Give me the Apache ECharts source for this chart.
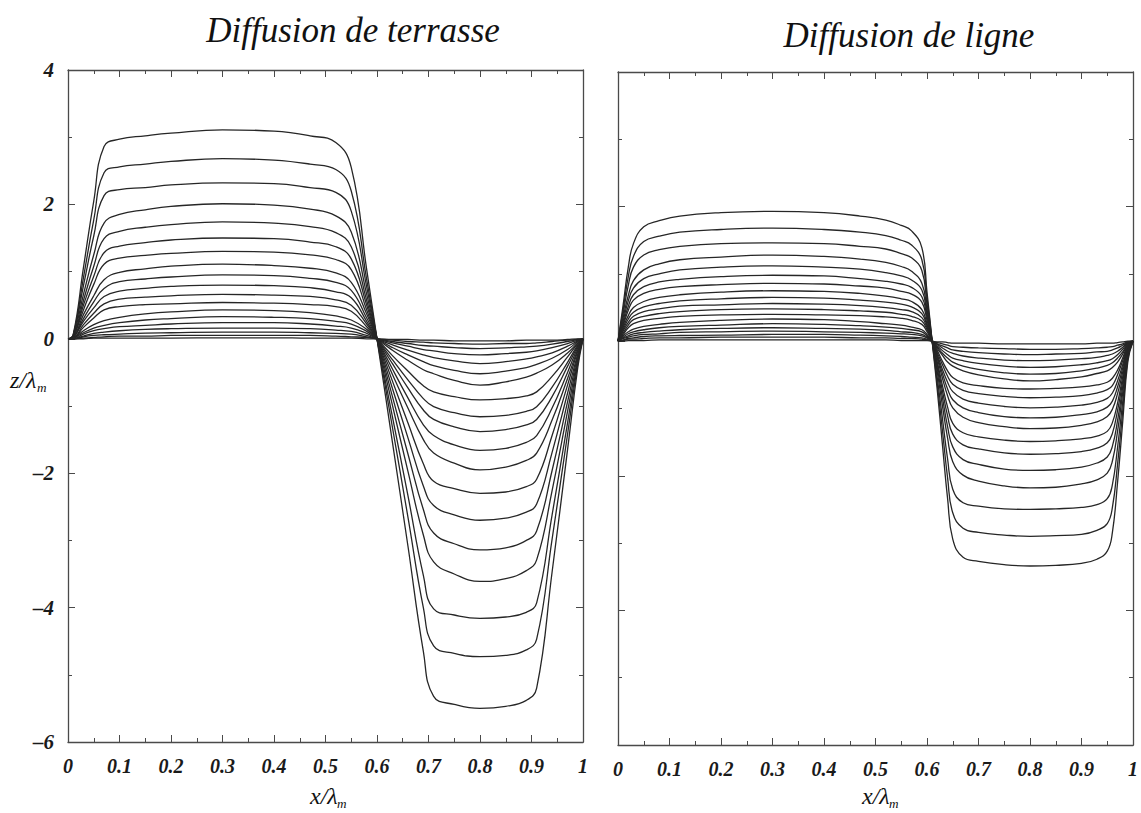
<!DOCTYPE html>
<html>
<head>
<meta charset="utf-8">
<script src="https://cdn.jsdelivr.net/npm/echarts@6/dist/echarts.min.js"></script>
<style>
  html, body { margin: 0; padding: 0; background: #fff; }
  #chart { width: 1141px; height: 813px; }
</style>
</head>
<body>
<div id="chart"></div>
<script>
// Profile z/λm versus x/λm, successive times, for two relaxation mechanisms.

// Panel titles and axis texts
const titles = ['Diffusion de terrasse', 'Diffusion de ligne'];
const xName = 'x/λ';
const yName = 'z/λ';
const nameSub = 'm';

// Axis ranges
const xRange = [0, 1, 0.1];
const zRange = [-6, 4, 2];

// Terrace diffusion: abscissae shared by every profile
const terrasseX = [0, 0.01, 0.03, 0.05, 0.07, 0.1, 0.15, 0.2, 0.3, 0.4, 0.47, 0.52, 0.55, 0.58, 0.6,
  0.63, 0.66, 0.69, 0.71, 0.75, 0.8, 0.85, 0.89, 0.91, 0.94, 0.97, 0.99, 1];

// Terrace diffusion: one row of heights per profile
const terrasseZ = [
  [0, 0.06, 1.06, 2.05, 2.86, 2.97, 3.02, 3.06, 3.11, 3.09, 3.02, 2.92, 2.55, 1.03, 0, -1.54, -3.08, -4.65, -5.32, -5.44, -5.50, -5.47, -5.38, -5.20, -3.47, -1.65, -0.42, 0],
  [0, 0.05, 0.91, 1.77, 2.47, 2.56, 2.60, 2.64, 2.68, 2.66, 2.60, 2.52, 2.20, 0.88, 0, -1.32, -2.65, -4.00, -4.57, -4.68, -4.73, -4.71, -4.63, -4.47, -2.98, -1.42, -0.36, 0],
  [0, 0.05, 0.79, 1.53, 2.13, 2.22, 2.25, 2.29, 2.32, 2.31, 2.25, 2.18, 1.90, 0.77, 0, -1.16, -2.33, -3.52, -4.02, -4.11, -4.16, -4.14, -4.07, -3.93, -2.62, -1.25, -0.32, 0],
  [0, 0.04, 0.66, 1.25, 1.72, 1.85, 1.92, 1.97, 2.01, 1.99, 1.93, 1.83, 1.59, 0.66, 0, -0.99, -1.97, -2.92, -3.32, -3.50, -3.61, -3.57, -3.45, -3.29, -2.26, -1.08, -0.29, 0],
  [0, 0.03, 0.57, 1.08, 1.49, 1.60, 1.66, 1.70, 1.74, 1.72, 1.67, 1.58, 1.37, 0.57, 0, -0.86, -1.71, -2.54, -2.89, -3.05, -3.14, -3.11, -3.00, -2.86, -1.96, -0.94, -0.25, 0],
  [0, 0.03, 0.50, 0.93, 1.28, 1.38, 1.43, 1.47, 1.50, 1.49, 1.44, 1.37, 1.19, 0.50, 0, -0.74, -1.47, -2.19, -2.48, -2.62, -2.70, -2.67, -2.58, -2.46, -1.69, -0.81, -0.22, 0],
  [0, 0.03, 0.43, 0.81, 1.11, 1.20, 1.24, 1.27, 1.30, 1.29, 1.25, 1.18, 1.03, 0.43, 0, -0.63, -1.25, -1.86, -2.12, -2.23, -2.30, -2.28, -2.20, -2.09, -1.44, -0.69, -0.18, 0],
  [0, 0.02, 0.36, 0.64, 0.88, 0.99, 1.04, 1.08, 1.11, 1.09, 1.05, 0.98, 0.84, 0.37, 0, -0.53, -1.03, -1.50, -1.70, -1.85, -1.95, -1.91, -1.81, -1.70, -1.21, -0.59, -0.16, 0],
  [0, 0.02, 0.30, 0.55, 0.75, 0.85, 0.89, 0.92, 0.95, 0.94, 0.90, 0.84, 0.72, 0.31, 0, -0.45, -0.88, -1.28, -1.44, -1.58, -1.66, -1.63, -1.54, -1.44, -1.03, -0.50, -0.13, 0],
  [0, 0.02, 0.26, 0.46, 0.63, 0.71, 0.75, 0.78, 0.80, 0.79, 0.76, 0.70, 0.61, 0.26, 0, -0.37, -0.73, -1.06, -1.20, -1.31, -1.38, -1.35, -1.28, -1.20, -0.86, -0.41, -0.11, 0],
  [0, 0.01, 0.21, 0.38, 0.52, 0.59, 0.62, 0.64, 0.66, 0.65, 0.63, 0.58, 0.50, 0.22, 0, -0.31, -0.61, -0.89, -1.01, -1.10, -1.16, -1.14, -1.08, -1.01, -0.72, -0.35, -0.09, 0],
  [0, 0.01, 0.17, 0.31, 0.43, 0.48, 0.51, 0.52, 0.54, 0.53, 0.51, 0.48, 0.41, 0.18, 0, -0.25, -0.48, -0.70, -0.79, -0.86, -0.91, -0.89, -0.85, -0.79, -0.56, -0.27, -0.07, 0],
  [0, 0.01, 0.12, 0.21, 0.27, 0.32, 0.37, 0.40, 0.43, 0.42, 0.39, 0.34, 0.28, 0.14, 0, -0.17, -0.32, -0.46, -0.52, -0.62, -0.69, -0.64, -0.57, -0.51, -0.39, -0.21, -0.06, 0],
  [0, 0.01, 0.09, 0.16, 0.20, 0.24, 0.28, 0.30, 0.33, 0.32, 0.30, 0.26, 0.22, 0.11, 0, -0.13, -0.24, -0.34, -0.40, -0.47, -0.52, -0.48, -0.43, -0.38, -0.29, -0.16, -0.04, 0],
  [0, 0, 0.07, 0.12, 0.15, 0.18, 0.20, 0.22, 0.24, 0.24, 0.22, 0.19, 0.16, 0.08, 0, -0.09, -0.17, -0.24, -0.28, -0.33, -0.37, -0.34, -0.30, -0.27, -0.21, -0.11, -0.03, 0],
  [0, 0, 0.04, 0.08, 0.10, 0.12, 0.14, 0.15, 0.16, 0.16, 0.15, 0.13, 0.11, 0.05, 0, -0.06, -0.11, -0.16, -0.18, -0.22, -0.24, -0.22, -0.20, -0.18, -0.13, -0.07, -0.02, 0],
  [0, 0, 0.03, 0.05, 0.06, 0.07, 0.085, 0.09, 0.10, 0.10, 0.09, 0.08, 0.07, 0.03, 0, -0.04, -0.07, -0.10, -0.11, -0.13, -0.145, -0.135, -0.12, -0.11, -0.08, -0.04, -0.01, 0],
  [0, 0, 0.01, 0.02, 0.03, 0.04, 0.04, 0.05, 0.05, 0.05, 0.05, 0.04, 0.03, 0.02, 0, -0.02, -0.04, -0.05, -0.06, -0.07, -0.08, -0.07, -0.07, -0.06, -0.04, -0.02, -0.01, 0],
  [0, 0, 0, 0.01, 0.01, 0.01, 0.01, 0.01, 0.015, 0.015, 0.01, 0.01, 0.01, 0, 0, -0.01, -0.01, -0.02, -0.02, -0.03, -0.03, -0.03, -0.02, -0.02, -0.02, -0.01, 0, 0]
];

// Line diffusion: abscissae shared by every profile
const ligneX = [0, 0.01, 0.02, 0.03, 0.05, 0.08, 0.12, 0.2, 0.3, 0.4, 0.47, 0.52, 0.55, 0.57, 0.59, 0.6, 0.61,
  0.62, 0.63, 0.64, 0.65, 0.67, 0.7, 0.75, 0.8, 0.85, 0.9, 0.93, 0.95, 0.96, 0.97, 0.98, 0.99, 1];

// Line diffusion: one row of heights per profile
const ligneZ = [
  [0, 0.54, 1.10, 1.45, 1.70, 1.79, 1.86, 1.91, 1.93, 1.91, 1.86, 1.80, 1.72, 1.64, 1.39, 0.73, 0, -0.73, -1.54, -2.34, -2.94, -3.21, -3.27, -3.32, -3.34, -3.33, -3.30, -3.24, -3.12, -2.84, -2.10, -1.20, -0.30, 0],
  [0, 0.47, 0.96, 1.26, 1.48, 1.56, 1.62, 1.66, 1.68, 1.66, 1.62, 1.57, 1.50, 1.43, 1.21, 0.64, 0, -0.64, -1.33, -2.03, -2.55, -2.78, -2.84, -2.88, -2.90, -2.89, -2.87, -2.81, -2.71, -2.47, -1.83, -1.04, -0.26, 0],
  [0, 0.41, 0.83, 1.10, 1.28, 1.36, 1.41, 1.45, 1.46, 1.45, 1.41, 1.37, 1.30, 1.24, 1.05, 0.55, 0, -0.55, -1.15, -1.75, -2.20, -2.40, -2.45, -2.49, -2.50, -2.49, -2.47, -2.43, -2.34, -2.13, -1.58, -0.90, -0.23, 0],
  [0, 0.35, 0.68, 0.90, 1.06, 1.15, 1.21, 1.25, 1.28, 1.26, 1.22, 1.17, 1.11, 1.04, 0.86, 0.47, 0, -0.46, -0.96, -1.44, -1.79, -1.99, -2.08, -2.15, -2.18, -2.17, -2.12, -2.06, -1.96, -1.78, -1.34, -0.77, -0.20, 0],
  [0, 0.30, 0.60, 0.79, 0.93, 1.00, 1.06, 1.10, 1.12, 1.10, 1.07, 1.02, 0.97, 0.91, 0.76, 0.41, 0, -0.40, -0.84, -1.27, -1.57, -1.76, -1.83, -1.90, -1.92, -1.91, -1.87, -1.81, -1.72, -1.56, -1.18, -0.68, -0.17, 0],
  [0, 0.26, 0.52, 0.69, 0.81, 0.88, 0.92, 0.96, 0.98, 0.97, 0.93, 0.89, 0.85, 0.80, 0.66, 0.36, 0, -0.35, -0.74, -1.11, -1.38, -1.54, -1.60, -1.66, -1.68, -1.67, -1.64, -1.59, -1.51, -1.37, -1.03, -0.60, -0.15, 0],
  [0, 0.23, 0.46, 0.61, 0.71, 0.77, 0.81, 0.84, 0.86, 0.85, 0.82, 0.79, 0.74, 0.70, 0.58, 0.31, 0, -0.31, -0.66, -0.98, -1.22, -1.36, -1.42, -1.47, -1.49, -1.48, -1.45, -1.41, -1.34, -1.21, -0.92, -0.53, -0.13, 0],
  [0, 0.20, 0.38, 0.50, 0.59, 0.65, 0.69, 0.73, 0.75, 0.74, 0.71, 0.67, 0.63, 0.59, 0.47, 0.26, 0, -0.26, -0.55, -0.81, -0.99, -1.13, -1.21, -1.27, -1.30, -1.29, -1.25, -1.20, -1.12, -1.01, -0.78, -0.46, -0.12, 0],
  [0, 0.17, 0.33, 0.43, 0.51, 0.56, 0.60, 0.63, 0.65, 0.64, 0.61, 0.58, 0.55, 0.51, 0.41, 0.23, 0, -0.23, -0.48, -0.71, -0.87, -0.99, -1.06, -1.12, -1.14, -1.13, -1.09, -1.05, -0.98, -0.89, -0.68, -0.40, -0.10, 0],
  [0, 0.15, 0.28, 0.37, 0.44, 0.48, 0.52, 0.54, 0.56, 0.55, 0.53, 0.50, 0.47, 0.44, 0.35, 0.20, 0, -0.20, -0.42, -0.61, -0.75, -0.86, -0.92, -0.97, -0.99, -0.98, -0.95, -0.91, -0.85, -0.77, -0.59, -0.35, -0.09, 0],
  [0, 0.12, 0.24, 0.32, 0.37, 0.41, 0.44, 0.47, 0.48, 0.47, 0.45, 0.43, 0.40, 0.37, 0.30, 0.17, 0, -0.17, -0.35, -0.52, -0.64, -0.73, -0.78, -0.82, -0.84, -0.83, -0.81, -0.77, -0.72, -0.66, -0.50, -0.29, -0.08, 0],
  [0, 0.10, 0.20, 0.26, 0.31, 0.34, 0.37, 0.39, 0.40, 0.39, 0.38, 0.36, 0.34, 0.31, 0.25, 0.14, 0, -0.14, -0.30, -0.44, -0.54, -0.62, -0.66, -0.70, -0.71, -0.70, -0.68, -0.65, -0.61, -0.55, -0.43, -0.25, -0.06, 0],
  [0, 0.08, 0.14, 0.18, 0.22, 0.25, 0.28, 0.31, 0.33, 0.32, 0.29, 0.26, 0.24, 0.21, 0.17, 0.10, 0, -0.11, -0.21, -0.31, -0.37, -0.44, -0.50, -0.56, -0.59, -0.57, -0.53, -0.48, -0.44, -0.39, -0.31, -0.19, -0.05, 0],
  [0, 0.06, 0.11, 0.14, 0.17, 0.20, 0.22, 0.24, 0.26, 0.25, 0.23, 0.21, 0.19, 0.17, 0.14, 0.08, 0, -0.09, -0.18, -0.25, -0.31, -0.37, -0.42, -0.47, -0.49, -0.48, -0.44, -0.40, -0.36, -0.32, -0.25, -0.16, -0.04, 0],
  [0, 0.05, 0.08, 0.11, 0.13, 0.15, 0.17, 0.19, 0.20, 0.19, 0.18, 0.16, 0.14, 0.13, 0.10, 0.06, 0, -0.07, -0.14, -0.20, -0.25, -0.29, -0.33, -0.37, -0.39, -0.38, -0.35, -0.32, -0.29, -0.26, -0.20, -0.12, -0.03, 0],
  [0, 0.04, 0.06, 0.08, 0.10, 0.11, 0.13, 0.14, 0.15, 0.14, 0.13, 0.12, 0.11, 0.10, 0.08, 0.05, 0, -0.05, -0.10, -0.15, -0.18, -0.22, -0.25, -0.28, -0.29, -0.28, -0.26, -0.24, -0.21, -0.19, -0.15, -0.09, -0.02, 0],
  [0, 0.02, 0.04, 0.05, 0.07, 0.08, 0.085, 0.09, 0.10, 0.10, 0.09, 0.08, 0.07, 0.06, 0.05, 0.03, 0, -0.04, -0.07, -0.10, -0.13, -0.15, -0.17, -0.19, -0.20, -0.19, -0.18, -0.16, -0.15, -0.13, -0.10, -0.06, -0.02, 0],
  [0, 0.01, 0.03, 0.03, 0.04, 0.05, 0.05, 0.06, 0.06, 0.06, 0.05, 0.05, 0.04, 0.04, 0.03, 0.02, 0, -0.02, -0.04, -0.06, -0.08, -0.09, -0.10, -0.11, -0.12, -0.12, -0.11, -0.10, -0.09, -0.08, -0.06, -0.04, -0.01, 0],
  [0, 0, 0.01, 0.01, 0.01, 0.02, 0.02, 0.02, 0.02, 0.02, 0.02, 0.02, 0.01, 0.01, 0.01, 0.01, 0, -0.01, -0.01, -0.02, -0.03, -0.03, -0.03, -0.04, -0.04, -0.04, -0.04, -0.03, -0.03, -0.03, -0.02, -0.01, 0, 0]
];

const SERIF = '"Liberation Serif", "DejaVu Serif", "Times New Roman", serif';
const INK = '#262626';
const FRAME = '#4a4a4a';

const chart = echarts.init(document.getElementById('chart'), null, { renderer: 'svg' });

// Panel frames (pixels)
const panels = [
  { left: 68, top: 70, width: 515, height: 672 },
  { left: 618, top: 72, width: 519, height: 673 }
];

const tickLine = { color: FRAME, width: 1 };

function xAxisFor(g, pos) {
  return {
    gridIndex: g, type: 'value', position: pos,
    min: xRange[0], max: xRange[1], interval: xRange[2],
    axisLine: { show: true, onZero: false, lineStyle: { color: FRAME, width: 1.3 } },
    axisTick: { show: true, inside: true, length: 7, lineStyle: tickLine },
    minorTick: { show: true, splitNumber: 2, length: 4, lineStyle: tickLine },
    splitLine: { show: false },
    axisLabel: pos === 'bottom' ? {
      show: true, margin: 14, color: '#1a1a1a',
      fontFamily: SERIF, fontStyle: 'italic', fontWeight: 'bold', fontSize: 20,
      formatter: v => String(+v.toFixed(1))
    } : { show: false }
  };
}

function yAxisFor(g, pos, labels) {
  return {
    gridIndex: g, type: 'value', position: pos,
    min: zRange[0], max: zRange[1], interval: zRange[2],
    axisLine: { show: true, onZero: false, lineStyle: { color: FRAME, width: 1.3 } },
    axisTick: { show: true, inside: true, length: 7, lineStyle: tickLine },
    minorTick: { show: true, splitNumber: 2, length: 4, lineStyle: tickLine },
    splitLine: { show: false },
    axisLabel: labels ? {
      show: true, margin: 14, color: '#1a1a1a',
      fontFamily: SERIF, fontStyle: 'italic', fontWeight: 'bold', fontSize: 21,
      formatter: v => (v < 0 ? '\u2013' + Math.abs(v) : String(v))
    } : { show: false }
  };
}

function profileSeries(xs, rows, g) {
  return rows.map(zs => ({
    type: 'line',
    xAxisIndex: g * 2, yAxisIndex: g * 2,
    data: xs.map((x, i) => [x, zs[i]]),
    showSymbol: false, symbol: 'none',
    smooth: 0.45,
    silent: true,
    lineStyle: { color: INK, width: 1.3 }
  }));
}

const textStyle = (size) => ({
  fontFamily: SERIF, fontStyle: 'italic', fontSize: size, fill: '#111'
});

// Axis name "x/λ" with a lowered "m"
function axisName(x, y, main, size) {
  return [
    { type: 'text', left: x, top: y, style: Object.assign({ text: main }, textStyle(size)) },
    { type: 'text', left: x + size * 1.12, top: y + size * 0.55, style: Object.assign({ text: nameSub }, textStyle(size * 0.55)) }
  ];
}

const titleStyle = { fontFamily: SERIF, fontStyle: 'italic', fontWeight: 'normal', fontSize: 35, color: '#111' };

const option = {
  animation: false,
  backgroundColor: '#ffffff',
  grid: panels.map(p => Object.assign({ show: false, containLabel: false }, p)),
  xAxis: [xAxisFor(0, 'bottom'), xAxisFor(0, 'top'), xAxisFor(1, 'bottom'), xAxisFor(1, 'top')],
  yAxis: [yAxisFor(0, 'left', true), yAxisFor(0, 'right', false), yAxisFor(1, 'left', false), yAxisFor(1, 'right', false)],
  title: [
    { text: titles[0], left: 348, top: 8, textAlign: 'center', textStyle: titleStyle },
    { text: titles[1], left: 904, top: 13, textAlign: 'center', textStyle: titleStyle }
  ],
  graphic: [].concat(
    axisName(310, 784, xName, 24),
    axisName(862, 784, xName, 24),
    axisName(10, 368, yName, 24)
  ),
  series: [].concat(profileSeries(terrasseX, terrasseZ, 0), profileSeries(ligneX, ligneZ, 1))
};

chart.setOption(option);
</script>
</body>
</html>
